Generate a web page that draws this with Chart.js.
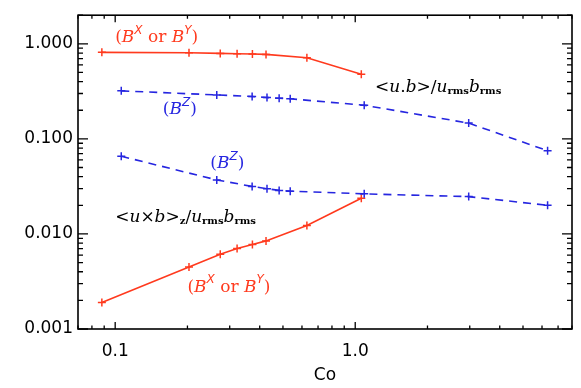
<!DOCTYPE html>
<html>
<head>
<meta charset="utf-8">
<script src="https://cdn.jsdelivr.net/npm/chart.js@4"></script>
<style>
  body { margin: 0; background: #fff; }
  #wrap { width: 581px; height: 388px; }
</style>
</head>
<body>
<div id="wrap"><canvas id="expChart"></canvas></div>
<script>
// Co values of the runs
const coRed = [0.088, 0.203, 0.274, 0.322, 0.373, 0.425, 0.629, 1.06];
const coBlue = [0.106, 0.265, 0.372, 0.429, 0.482, 0.536, 1.09, 2.97, 6.33];

// <u.b>/urms brms
const ubRed = [0.813, 0.805, 0.793, 0.786, 0.78, 0.774, 0.714, 0.478];
const ubBlue = [0.32, 0.29, 0.279, 0.272, 0.268, 0.264, 0.226, 0.1465, 0.075];

// <u x b>_z/urms brms
const uxbRed = [0.0019, 0.00448, 0.00612, 0.00703, 0.00774, 0.00845, 0.0123, 0.0237];
const uxbBlue = [0.0656, 0.037, 0.0316, 0.0299, 0.0287, 0.0282, 0.0264, 0.0247, 0.02];

const xTickVals = [0.1, 1];
const xTickLabels = ['0.1', '1.0'];
const yTickVals = [0.001, 0.01, 0.1, 1];
const yTickLabels = ['0.001', '0.010', '0.100', '1.000'];

const RED = '#ff3a1e';
const BLUE = '#2626e0';

const pts = (xs, ys) => xs.map((x, i) => ({ x: x, y: ys[i] }));

// text labels placed in data coordinates
const labels = [
  { x: 0.1, y: 1.15, color: RED, segs: [['(', 'n'], ['B', 'i'], ['X', 'sup'], [' or ', 'n'], ['B', 'i'], ['Y', 'sup'], [')', 'n']] },
  { x: 0.158, y: 0.202, color: BLUE, segs: [['(', 'n'], ['B', 'i'], ['Z', 'sup'], [')', 'n']] },
  { x: 0.249, y: 0.0548, color: BLUE, segs: [['(', 'n'], ['B', 'i'], ['Z', 'sup'], [')', 'n']] },
  { x: 0.1, y: 0.0149, color: '#000', segs: [['<', 'n'], ['u', 'i'], ['\u00d7', 'n'], ['b', 'i'], ['>', 'n'], ['z', 'sub'], ['/', 'n'], ['u', 'i'], ['rms', 'sub'], ['b', 'i'], ['rms', 'sub']] },
  { x: 0.2, y: 0.00275, color: RED, segs: [['(', 'n'], ['B', 'i'], ['X', 'sup'], [' or ', 'n'], ['B', 'i'], ['Y', 'sup'], [')', 'n']] },
  { x: 1.21, y: 0.346, color: '#000', segs: [['<', 'n'], ['u', 'i'], ['.', 'n'], ['b', 'i'], ['>', 'n'], ['/', 'n'], ['u', 'i'], ['rms', 'sub'], ['b', 'i'], ['rms', 'sub']] },
];

const segFont = {
  n: '17px "DejaVu Serif"',
  i: 'italic 17px "DejaVu Serif"',
  sup: 'italic 12px "DejaVu Sans"',
  sub: 'bold 10px "DejaVu Serif"',
};
const segShift = { n: 0, i: 0, sup: -7, sub: 4 };

function drawRich(ctx, segs, x, y, color) {
  ctx.fillStyle = color;
  ctx.textBaseline = 'middle';
  ctx.textAlign = 'left';
  let cx = x;
  segs.forEach(([t, s]) => {
    ctx.font = segFont[s];
    ctx.fillText(t, cx, y + segShift[s]);
    cx += ctx.measureText(t).width;
  });
}

function minorVals(min, max) {
  const out = [];
  for (let d = Math.floor(Math.log10(min)); d <= Math.ceil(Math.log10(max)); d++) {
    for (let m = 1; m < 10; m++) {
      const v = m * Math.pow(10, d);
      if (v >= min * 0.999 && v <= max * 1.001) out.push({ v: v, major: m === 1 });
    }
  }
  return out;
}

// inward ticks on all four sides, box and labels
const framePlugin = {
  id: 'frame',
  afterDraw(chart) {
    const ctx = chart.ctx;
    const a = chart.chartArea;
    const xs = chart.scales.x, ys = chart.scales.y;
    ctx.save();
    ctx.strokeStyle = '#000';
    ctx.lineWidth = 1.6;
    ctx.strokeRect(a.left, a.top, a.right - a.left, a.bottom - a.top);
    ctx.lineWidth = 1.3;
    ctx.beginPath();
    minorVals(xs.min, xs.max).forEach(t => {
      const px = xs.getPixelForValue(t.v);
      const len = t.major ? 7 : 3.5;
      ctx.moveTo(px, a.bottom); ctx.lineTo(px, a.bottom - len);
      ctx.moveTo(px, a.top); ctx.lineTo(px, a.top + len);
    });
    minorVals(ys.min, ys.max).forEach(t => {
      const py = ys.getPixelForValue(t.v);
      const len = t.major ? 10 : 5;
      ctx.moveTo(a.left, py); ctx.lineTo(a.left + len, py);
      ctx.moveTo(a.right, py); ctx.lineTo(a.right - len, py);
    });
    ctx.stroke();
    labels.forEach(l => {
      drawRich(ctx, l.segs, xs.getPixelForValue(l.x), ys.getPixelForValue(l.y), l.color);
    });
    ctx.restore();
  }
};

const lineSet = (data, color, dashed) => ({
  data: data,
  showLine: true,
  borderColor: color,
  backgroundColor: color,
  borderWidth: 1.6,
  borderDash: dashed ? [8, 6] : [],
  pointStyle: 'cross',
  pointRadius: 4,
  pointBorderWidth: 1.5,
  pointBorderColor: color,
  tension: 0,
});

const chart = new Chart(document.getElementById('expChart'), {
  type: 'scatter',
  data: {
    datasets: [
      lineSet(pts(coRed, ubRed), RED, false),
      lineSet(pts(coBlue, ubBlue), BLUE, true),
      lineSet(pts(coBlue, uxbBlue), BLUE, true),
      lineSet(pts(coRed, uxbRed), RED, false),
    ]
  },
  options: {
    responsive: true,
    maintainAspectRatio: false,
    animation: false,
    layout: { padding: { top: 14, right: 9, left: 0, bottom: 0 } },
    plugins: { legend: { display: false }, tooltip: { enabled: false } },
    scales: {
      x: {
        type: 'logarithmic',
        min: 0.07,
        max: 8,
        grid: { display: false, drawTicks: false },
        border: { display: false },
        afterBuildTicks: s => { s.ticks = xTickVals.map(v => ({ value: v })); },
        afterFit: s => { s.height = 59; },
        ticks: {
          color: '#000',
          font: { family: '"DejaVu Sans"', size: 17 },
          padding: 12,
          maxRotation: 0,
          callback: (v) => xTickLabels[xTickVals.indexOf(v)],
        },
        title: { display: true, text: 'Co', color: '#000', font: { family: '"DejaVu Sans"', size: 17 }, padding: { top: 0, bottom: 2 } },
      },
      y: {
        type: 'logarithmic',
        min: 0.001,
        max: 2,
        grid: { display: false, drawTicks: false },
        border: { display: false },
        afterBuildTicks: s => { s.ticks = yTickVals.map(v => ({ value: v })); },
        afterFit: s => { s.width = 78; },
        ticks: {
          color: '#000',
          font: { family: '"DejaVu Sans"', size: 17 },
          padding: 5,
          callback: (v) => yTickLabels[yTickVals.indexOf(v)],
        },
      },
    },
  },
  plugins: [framePlugin],
});
</script>
</body>
</html>
